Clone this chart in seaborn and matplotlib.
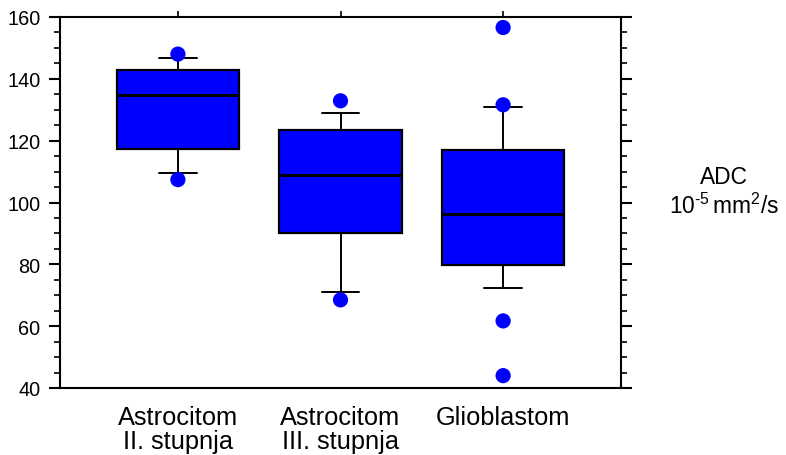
import matplotlib
matplotlib.use("Agg")
import matplotlib.pyplot as plt
from matplotlib.ticker import MultipleLocator, FixedLocator
import seaborn as sns
import pandas as pd

categories = ["Astrocitom\nII. stupnja", "Astrocitom\nIII. stupnja", "Glioblastom"]
q1 = [117.3, 90.1, 79.9]
med = [134.7, 109.0, 96.2]
q3 = [142.8, 123.3, 117.0]
whislo = [109.5, 71.0, 72.3]
whishi = [146.6, 128.9, 130.9]
outliers = [[107.4, 148.0], [68.5, 132.9], [44.0, 61.7, 131.6, 156.6]]

sns.set_theme(style="ticks")
plt.rcParams['font.family'] = ['Liberation Sans', 'DejaVu Sans']
plt.rcParams['mathtext.fontset'] = 'custom'
plt.rcParams['mathtext.rm'] = 'Liberation Sans'
plt.rcParams['mathtext.it'] = 'Liberation Sans'
plt.rcParams['text.color'] = 'black'

fig = plt.figure(figsize=(7.86, 4.56), dpi=100)
ax = fig.add_axes([60/786, 1-389/456, (621-60)/786, (389-18)/456])

stats = []
for i in range(len(categories)):
    stats.append(dict(med=med[i], q1=q1[i], q3=q3[i], whislo=whislo[i],
                      whishi=whishi[i], fliers=[]))
ax.bxp(stats, positions=range(len(categories)), widths=0.755, patch_artist=True,
       showfliers=False,
       boxprops=dict(facecolor="#0000FF", edgecolor="black", linewidth=1.6),
       medianprops=dict(color="black", linewidth=2.2),
       whiskerprops=dict(color="black", linewidth=1.4),
       capprops=dict(color="black", linewidth=1.4),
       capwidths=0.23)

rows = []
for i, vals in enumerate(outliers):
    for v in vals:
        rows.append((i, v))
df = pd.DataFrame(rows, columns=["pos", "val"])
sns.scatterplot(data=df, x="pos", y="val", ax=ax, color="#0000FF", s=120,
                edgecolor="none", zorder=5, legend=False)

ax.set_xlim(-0.725, 2.725)
ax.set_ylim(40, 160)
ax.set_xlabel("")
ax.set_ylabel("")

for s in ax.spines.values():
    s.set_linewidth(1.5)
    s.set_color("black")

ax.yaxis.set_major_locator(MultipleLocator(20))
ax.yaxis.set_minor_locator(MultipleLocator(5))
ax.tick_params(axis="y", which="major", direction="out", length=8, width=1.5,
               left=True, right=True, labelleft=True, labelright=False,
               labelsize=14.3, pad=6, color="black", labelcolor="black")
ax.tick_params(axis="y", which="minor", direction="out", length=4, width=1.2,
               left=True, right=True, color="black")

ax.xaxis.set_major_locator(FixedLocator(range(len(categories))))
ax.set_xticklabels(categories, linespacing=1.0)
ax.tick_params(axis="x", which="major", direction="out", length=4, width=1.2,
               bottom=False, top=True, labelbottom=True, labeltop=False,
               labelsize=18.3, pad=8, color="black", labelcolor="black")

fig.text(724/786, 1-178/456, "ADC", ha="center", va="center", fontsize=16.4,
         color="black")
fig.text(724/786, 1-206/456, r"$\mathrm{10^{\text{-}5}\,mm^{2}/s}$", ha="center",
         va="center", fontsize=16.4, color="black")

fig.savefig("out.png", dpi=100)
